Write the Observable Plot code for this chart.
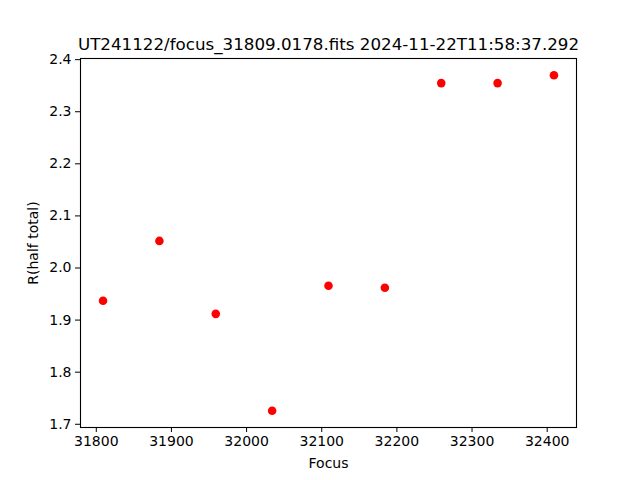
<!DOCTYPE html>
<html>
<head>
<meta charset="utf-8">
<script src="https://cdn.jsdelivr.net/npm/d3@7"></script>
<script src="https://cdn.jsdelivr.net/npm/@observablehq/plot@0.6"></script>
<style>
  html, body { margin: 0; padding: 0; background: #fff; }
</style>
</head>
<body>
<div id="chart"></div>
<script>
const focus = [31809, 31884, 31959, 32034, 32109, 32184, 32259, 32334, 32409];
const rHalf = [1.937, 2.052, 1.912, 1.726, 1.966, 1.962, 2.355, 2.355, 2.370];
const xTicks = [31800, 31900, 32000, 32100, 32200, 32300, 32400];
const yTicks = [1.7, 1.8, 1.9, 2.0, 2.1, 2.2, 2.3, 2.4];
const title = "UT241122/focus_31809.0178.fits 2024-11-22T11:58:37.292";

const data = focus.map((f, i) => ({focus: f, r: rHalf[i]}));

const chart = Plot.plot({
  width: 640,
  height: 480,
  marginLeft: 80,
  marginRight: 64,
  marginTop: 58,
  marginBottom: 53,
  style: {fontFamily: "DejaVu Sans", fontSize: "14px", background: "#fff", color: "#000"},
  x: {domain: [31779, 32439]},
  y: {domain: [1.6938, 2.4022]},
  marks: [
    Plot.axisX({ticks: xTicks, tickSize: 5, tickPadding: 4, fontSize: 14, tickFormat: d => String(d),
      label: "Focus", labelAnchor: "center", labelArrow: "none", labelOffset: 40}),
    Plot.axisY({ticks: yTicks, tickSize: 5, tickPadding: 4, fontSize: 14, tickFormat: d3.format(".1f"),
      label: "R(half total)", labelAnchor: "center", labelArrow: "none", labelOffset: 52}),
    Plot.frame({stroke: "#000", strokeWidth: 1.1}),
    Plot.dot(data, {x: "focus", y: "r", r: 4.3, fill: "red", stroke: "none"}),
    Plot.text([title], {frameAnchor: "top", lineAnchor: "bottom", dy: -9, fontSize: 16.7, fill: "#000"})
  ]
});
document.getElementById("chart").appendChild(chart);
</script>
</body>
</html>
